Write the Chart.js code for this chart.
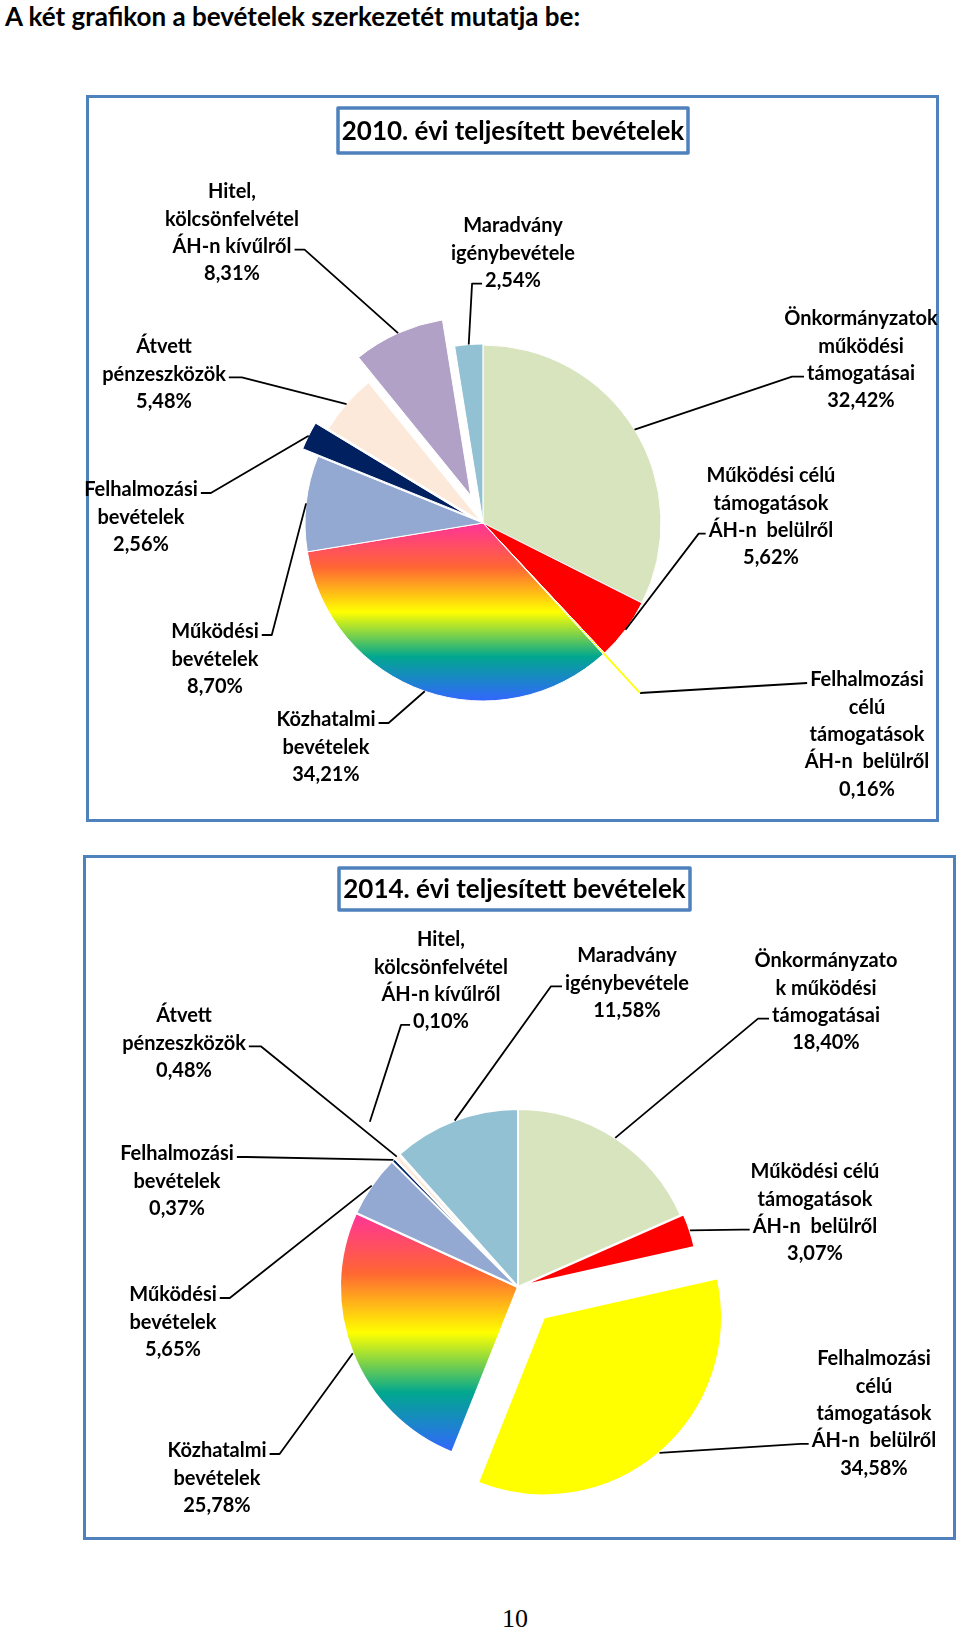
<!DOCTYPE html>
<html lang="hu">
<head>
<meta charset="UTF-8" />
<title>Bevételek szerkezete</title>
<script src="https://cdn.jsdelivr.net/npm/chart.js"></script>
<style>
  body { margin: 0; background: #fff; width: 960px; height: 1634px; position: relative; overflow: hidden; font-family: Lato, "Liberation Sans", sans-serif; }
  #head { position: absolute; left: 5px; top: 0px; font-weight: bold; font-size: 26px; color: #000; }
  .frame { position: absolute; border: 3px solid #4F81BD; box-sizing: border-box; }
  #f1 { left: 86px; top: 95px; width: 853px; height: 727px; }
  #f2 { left: 83px; top: 855px; width: 873px; height: 685px; }
  canvas { position: absolute; left: 0; }
  #c2010 { top: 88px; }
  #c2014 { top: 845px; }
  #page { position: absolute; left: 0; width: 1030px; top: 1604px; text-align: center; font-family: "Liberation Serif", serif; font-size: 26px; color: #000; }
</style>
</head>
<body>
<div id="head">A két grafikon a bevételek szerkezetét mutatja be:</div>
<div class="frame" id="f1"></div>
<div class="frame" id="f2"></div>
<canvas id="c2010" width="960" height="750"></canvas>
<canvas id="c2014" width="960" height="705"></canvas>
<div id="page">10</div>

<script>
// categories, clockwise from 12 o'clock
const categories = [
  "Önkormányzatok működési támogatásai",
  "Működési célú támogatások ÁH-n belülről",
  "Felhalmozási célú támogatások ÁH-n belülről",
  "Közhatalmi bevételek",
  "Működési bevételek",
  "Felhalmozási bevételek",
  "Átvett pénzeszközök",
  "Hitel, kölcsönfelvétel ÁH-n kívűlről",
  "Maradvány igénybevétele"
];
const values2010 = [32.42, 5.62, 0.16, 34.21, 8.70, 2.56, 5.48, 8.31, 2.54];
const values2014 = [18.40, 3.07, 34.58, 25.78, 5.65, 0.37, 0.48, 0.10, 11.58];

// how each label is broken into lines in the two charts
const lines2010 = [
  ["Önkormányzatok", "működési", "támogatásai"],
  ["Működési célú", "támogatások", "ÁH-n  belülről"],
  ["Felhalmozási", "célú", "támogatások", "ÁH-n  belülről"],
  ["Közhatalmi", "bevételek"],
  ["Működési", "bevételek"],
  ["Felhalmozási", "bevételek"],
  ["Átvett", "pénzeszközök"],
  ["Hitel,", "kölcsönfelvétel", "ÁH-n kívűlről"],
  ["Maradvány", "igénybevétele"]
];
const lines2014 = [
  ["Önkormányzato", "k működési", "támogatásai"],
  ["Működési célú", "támogatások", "ÁH-n  belülről"],
  ["Felhalmozási", "célú", "támogatások", "ÁH-n  belülről"],
  ["Közhatalmi", "bevételek"],
  ["Működési", "bevételek"],
  ["Felhalmozási", "bevételek"],
  ["Átvett", "pénzeszközök"],
  ["Hitel,", "kölcsönfelvétel", "ÁH-n kívűlről"],
  ["Maradvány", "igénybevétele"]
];

const sliceColors = ["#D7E4BD", "#FF0000", "#FFFF00", "rainbow", "#93A9D1", "#002060", "#FDE9D9", "#B2A1C7", "#92C1D4"];
const rainbowStops = [[0, "#FF3399"], [0.25, "#FF6633"], [0.5, "#FFFF00"], [0.75, "#01A78F"], [1, "#3366FF"]];

// exploded slices (px)
const explode2010 = [0, 0, 0, 0, 0, 17, 3, 30, 1];
const explode2014 = [0, 3, 40, 0, 0, 0, 0, 44, 0];

// label placement in page pixels: centre x, first line y, which line the leader starts from
const place2010 = [
  { cx: 861, y: 319, line: 2, side: "left", stub: 12 },
  { cx: 771, y: 476, line: 2, side: "left", stub: 7 },
  { cx: 867, y: 680, line: 0, side: "left", elbow: [640, 693], firstColor: "#FFFF00" },
  { cx: 326, y: 720, line: 0, side: "right", stub: 10 },
  { cx: 215, y: 632, line: 0, side: "right", stub: 10 },
  { cx: 141, y: 490, line: 0, side: "right", stub: 10 },
  { cx: 164, y: 347, line: 1, side: "right", stub: 13 },
  { cx: 232, y: 192, line: 2, side: "right", stub: 10 },
  { cx: 513, y: 226, line: 2, side: "left", stub: 10 }
];
const place2014 = [
  { cx: 826, y: 961, line: 2, side: "left", stub: 11 },
  { cx: 815, y: 1172, line: 2, side: "left", stub: 8 },
  { cx: 874, y: 1359, line: 3, side: "left", stub: 8 },
  { cx: 217, y: 1451, line: 0, side: "right", stub: 10 },
  { cx: 173, y: 1295, line: 0, side: "right", stub: 10 },
  { cx: 177, y: 1154, line: 0, side: "right", stub: 10 },
  { cx: 184, y: 1016, line: 1, side: "right", stub: 12 },
  { cx: 441, y: 940, line: 3, side: "left", stub: 9 },
  { cx: 627, y: 956, line: 1, side: "left", stub: 11 }
];

const LINE_H = 27.3;
const LABEL_FONT = "bold 20px Lato, 'Liberation Sans', sans-serif";
const TITLE_FONT = "bold 26px Lato, 'Liberation Sans', sans-serif";

function fmt(v) {
  return v.toFixed(2).replace(".", ",") + "%";
}

function rainbowFill(context) {
  const chart = context.chart, area = chart.chartArea;
  if (!area) return "#FFCC00";
  const data = context.dataset.data, i = context.dataIndex;
  const total = data.reduce((s, v) => s + v, 0);
  const before = data.slice(0, i).reduce((s, v) => s + v, 0);
  const a0 = -Math.PI / 2 + before / total * 2 * Math.PI;
  const a1 = a0 + data[i] / total * 2 * Math.PI;
  const cy = (area.top + area.bottom) / 2, r = context.dataset.radius;
  const ys = [cy, cy + r * Math.sin(a0), cy + r * Math.sin(a1)];
  [Math.PI / 2, 3 * Math.PI / 2].forEach(a => { if (a > a0 && a < a1) ys.push(cy + r * Math.sin(a)); });
  const g = chart.ctx.createLinearGradient(0, Math.min(...ys), 0, Math.max(...ys));
  rainbowStops.forEach(s => g.addColorStop(s[0], s[1]));
  return g;
}

function sliceFill(context) {
  const c = sliceColors[context.dataIndex];
  return c === "rainbow" ? rainbowFill(context) : c;
}

// pulls slices out of the pie without changing their radius
const explodePlugin = {
  id: "explode",
  afterDatasetsUpdate(chart, args, opts) {
    chart.getDatasetMeta(0).data.forEach((arc, i) => {
      const d = opts.dist[i] || 0;
      if (!d || arc._exploded) return;
      const draw = arc.draw;
      arc.draw = function (ctx) {
        const mid = (this.startAngle + this.endAngle) / 2;
        ctx.save();
        ctx.translate(Math.cos(mid) * d, Math.sin(mid) * d);
        draw.call(this, ctx);
        ctx.restore();
      };
      arc._exploded = true;
    });
  }
};

// title box, labels and leader lines
const calloutPlugin = {
  id: "callouts",
  afterDraw(chart, args, opts) {
    const ctx = chart.ctx;
    const oy = opts.originY;
    const meta = chart.getDatasetMeta(0);
    const data = chart.data.datasets[0].data;

    // title box
    const b = opts.box;
    ctx.save();
    ctx.fillStyle = "#fff";
    ctx.strokeStyle = "#4F81BD";
    ctx.lineWidth = 3.5;
    ctx.lineJoin = "round";
    ctx.fillRect(b[0], b[1] - oy, b[2] - b[0], b[3] - b[1]);
    ctx.strokeRect(b[0], b[1] - oy, b[2] - b[0], b[3] - b[1]);
    ctx.fillStyle = "#000";
    ctx.font = TITLE_FONT;
    ctx.textAlign = "center";
    ctx.textBaseline = "middle";
    ctx.fillText(opts.title, (b[0] + b[2]) / 2, (b[1] + b[3]) / 2 - oy + 1);

    ctx.font = LABEL_FONT;
    opts.places.forEach((p, i) => {
      const lines = opts.lines[i].concat(fmt(data[i]));
      const arc = meta.data[i];
      const mid = (arc.startAngle + arc.endAngle) / 2;
      const r = arc.outerRadius + (opts.dist[i] || 0);
      const tip = [arc.x + Math.cos(mid) * r, arc.y + Math.sin(mid) * r];

      const ly = p.y + p.line * LINE_H + 3 - oy;
      const half = ctx.measureText(lines[p.line]).width / 2;
      const sx = p.side === "left" ? p.cx - half - 3 : p.cx + half + 3;
      const elbow = p.elbow ? [p.elbow[0], p.elbow[1] - oy] : [sx + (p.side === "left" ? -p.stub : p.stub), ly];

      ctx.lineWidth = 1.8;
      ctx.lineCap = "butt";
      ctx.strokeStyle = "#000";
      ctx.beginPath();
      ctx.moveTo(sx, ly);
      ctx.lineTo(elbow[0], elbow[1]);
      if (!p.firstColor) ctx.lineTo(tip[0], tip[1]);
      ctx.stroke();
      if (p.firstColor) {
        ctx.strokeStyle = p.firstColor;
        ctx.beginPath();
        ctx.moveTo(elbow[0], elbow[1]);
        ctx.lineTo(tip[0], tip[1]);
        ctx.stroke();
      }

      ctx.fillStyle = "#000";
      lines.forEach((t, k) => ctx.fillText(t, p.cx, p.y + k * LINE_H - oy));
    });
    ctx.restore();
  }
};

function pieChart(id, values, lines, places, dist, border, title, box, originY, padding) {
  return new Chart(document.getElementById(id), {
    type: "pie",
    data: {
      labels: categories,
      datasets: [{
        data: values,
        radius: 178,
        backgroundColor: sliceFill,
        borderColor: "#fff",
        borderWidth: border,
        hoverOffset: 0
      }]
    },
    options: {
      responsive: false,
      animation: false,
      events: [],
      layout: { padding: padding },
      plugins: {
        legend: { display: false },
        tooltip: { enabled: false },
        explode: { dist: dist },
        callouts: { lines: lines, places: places, dist: dist, title: title, box: box, originY: originY }
      }
    },
    plugins: [explodePlugin, calloutPlugin]
  });
}

pieChart("c2010", values2010, lines2010, place2010, explode2010, 1,
  "2010. évi teljesített bevételek", [338, 108, 688, 153], 88,
  { left: 6, right: 0, top: 120, bottom: 0 });

pieChart("c2014", values2014, lines2014, place2014, explode2014, 2,
  "2014. évi teljesített bevételek", [339, 868, 690, 910], 845,
  { left: 76, right: 0, top: 179, bottom: 0 });
</script>
</body>
</html>
